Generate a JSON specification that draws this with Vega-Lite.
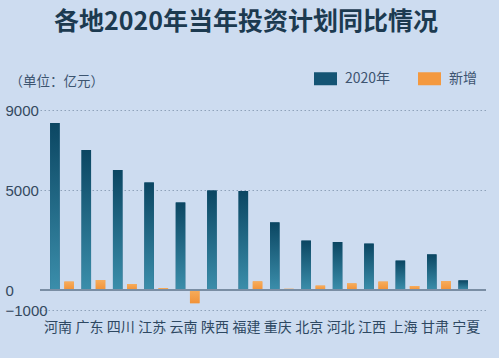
{
  "$schema": "https://vega.github.io/schema/vega-lite/v6.json",
  "width": 446,
  "height": 200,
  "autosize": "none",
  "padding": {"left": 40, "top": 110, "right": 13, "bottom": 48},
  "background": "#cddcf0",
  "title": {
    "text": "各地2020年当年投资计划同比情况",
    "font": "Noto Sans CJK SC",
    "fontSize": 25,
    "fontWeight": "bold",
    "color": "#1c3a50",
    "anchor": "middle",
    "dx": -17,
    "offset": 32
  },
  "config": {
    "view": {"stroke": null},
    "font": "Noto Sans CJK SC"
  },
  "data": {
    "values": [
      {"region": "河南", "series": "2020年", "value": 8350},
      {"region": "河南", "series": "新增", "value": 420},
      {"region": "广东", "series": "2020年", "value": 7000},
      {"region": "广东", "series": "新增", "value": 500},
      {"region": "四川", "series": "2020年", "value": 6000},
      {"region": "四川", "series": "新增", "value": 300},
      {"region": "江苏", "series": "2020年", "value": 5380},
      {"region": "江苏", "series": "新增", "value": 100},
      {"region": "云南", "series": "2020年", "value": 4380},
      {"region": "云南", "series": "新增", "value": -660},
      {"region": "陕西", "series": "2020年", "value": 4970},
      {"region": "陕西", "series": "新增", "value": 0},
      {"region": "福建", "series": "2020年", "value": 4950},
      {"region": "福建", "series": "新增", "value": 430},
      {"region": "重庆", "series": "2020年", "value": 3380},
      {"region": "重庆", "series": "新增", "value": 60},
      {"region": "北京", "series": "2020年", "value": 2470},
      {"region": "北京", "series": "新增", "value": 220},
      {"region": "河北", "series": "2020年", "value": 2400},
      {"region": "河北", "series": "新增", "value": 330},
      {"region": "江西", "series": "2020年", "value": 2320},
      {"region": "江西", "series": "新增", "value": 420},
      {"region": "上海", "series": "2020年", "value": 1470},
      {"region": "上海", "series": "新增", "value": 200},
      {"region": "甘肃", "series": "2020年", "value": 1780},
      {"region": "甘肃", "series": "新增", "value": 450},
      {"region": "宁夏", "series": "2020年", "value": 480},
      {"region": "宁夏", "series": "新增", "value": 0}
    ]
  },
  "encoding": {
    "x": {
      "field": "region",
      "type": "nominal",
      "sort": null,
      "scale": {"paddingInner": 0, "paddingOuter": 0.1, "align": 1},
      "axis": {
        "title": null,
        "domain": false,
        "ticks": false,
        "labelAngle": 0,
        "labelFontSize": 14,
        "labelColor": "#2e4862",
        "labelPadding": 10,
        "labelOffset": -4,
        "labelOverlap": false,
        "labelBaseline": "top"
      }
    },
    "xOffset": {
      "field": "series",
      "type": "nominal",
      "sort": ["2020年", "新增"],
      "scale": {"paddingInner": 0.33, "paddingOuter": 0.27}
    },
    "y": {
      "field": "value",
      "type": "quantitative",
      "scale": {"domain": [-1000, 9000], "nice": false, "zero": false},
      "axis": {
        "title": "（单位：亿元）",
        "titleAngle": 0,
        "titleAlign": "left",
        "titleBaseline": "middle",
        "titleX": -31,
        "titleY": -29,
        "titleFontSize": 13.5,
        "titleFontWeight": "normal",
        "titleColor": "#3d5570",
        "values": [9000, 5000, 0, -1000],
        "format": "d",
        "domain": false,
        "ticks": false,
        "labelAlign": "left",
        "labelPadding": 35,
        "labelFont": "Liberation Sans",
        "labelFontSize": 15,
        "labelColor": "#34495f",
        "grid": true,
        "gridColor": "#8ea2ba",
        "gridDash": [1.5, 2.5],
        "gridWidth": 1
      }
    }
  },
  "layer": [
    {
      "mark": {"type": "bar"},
      "encoding": {
        "color": {
          "field": "series",
          "type": "nominal",
          "sort": ["2020年", "新增"],
          "scale": {"range": ["#145474", "#f4993f"]},
          "legend": {
            "title": null,
            "orient": "none",
            "direction": "horizontal",
            "legendX": 274,
            "legendY": -43,
            "padding": 0,
            "symbolType": "M-1,-0.565H1V0.565H-1Z",
            "symbolSize": 529,
            "symbolStrokeWidth": 0,
            "symbolOpacity": 1,
            "labelFont": "Noto Sans CJK SC",
            "labelFontSize": 14,
            "labelColor": "#3d5470",
            "labelOffset": 8,
            "columnPadding": 27
          }
        }
      }
    },
    {
      "transform": [{"filter": "datum.series === '2020年'"}],
      "mark": {
        "type": "bar",
        "color": {
          "gradient": "linear",
          "x1": 0, "y1": 0, "x2": 0, "y2": 1,
          "stops": [
            {"offset": 0, "color": "#0b4662"},
            {"offset": 1, "color": "#3b8eab"}
          ]
        }
      }
    },
    {
      "transform": [{"filter": "datum.series === '新增'"}],
      "mark": {
        "type": "bar",
        "color": {
          "gradient": "linear",
          "x1": 0, "y1": 0, "x2": 0, "y2": 1,
          "stops": [
            {"offset": 0, "color": "#f7ad5c"},
            {"offset": 1, "color": "#f19238"}
          ]
        }
      }
    },
    {
      "mark": {"type": "rule", "color": "#7b8da4", "strokeWidth": 1.2},
      "encoding": {
        "y": {"datum": 0},
        "x": null,
        "xOffset": null
      }
    }
  ]
}
